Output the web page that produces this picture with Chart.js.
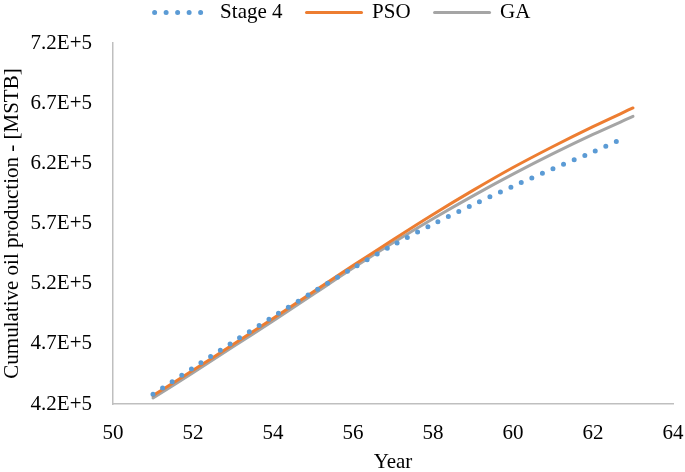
<!DOCTYPE html>
<html>
<head>
<meta charset="utf-8">
<script src="https://cdn.jsdelivr.net/npm/chart.js@4"></script>
<style>
  html, body { margin: 0; padding: 0; background: #fff; }
  #wrap { width: 685px; height: 472px; }
</style>
</head>
<body>
<div id="wrap"><canvas id="graph" width="685" height="472"></canvas></div>
<script>
// values
const years = [51, 52, 53, 54, 55, 56, 57, 58, 59, 60, 61, 62, 63];
const stage4Years = [51, 52, 53, 54, 55, 56, 57, 58, 59, 60, 61, 62, 62.8];
const stage4 = [428000, 450000, 471500, 492500, 513000, 533000, 552000, 569500, 585500, 601000, 615500, 629500, 641500];
const pso = [427000, 448000, 469500, 491000, 513000, 535000, 556500, 577500, 597500, 616500, 634000, 650500, 666000];
const ga = [425000, 446000, 467500, 489000, 511000, 533000, 554000, 574000, 593000, 611000, 628000, 644000, 659000];
const xTicks = [50, 52, 54, 56, 58, 60, 62, 64];
const yTicks = [420000, 470000, 520000, 570000, 620000, 670000, 720000];

const serif = '"Liberation Serif", "Times New Roman", serif';

function points(xs, ys) {
    return xs.map((x, i) => ({ x: x, y: ys[i] }));
}

// legend needs its own room above the plot, text near the top edge
const legendShift = {
    id: 'legendShift',
    beforeInit(chart) {
        const fit = chart.legend.fit;
        chart.legend.fit = function () {
            fit.call(this);
            this.height = 43;
        };
    },
    afterLayout(chart) {
        chart.legend.top -= 22;
    }
};

const lineGraph = {
    type: 'line',
    data: {
        datasets: [
            {
                label: 'Stage 4',
                data: points(stage4Years, stage4),
                borderColor: '#5B9BD5',
                backgroundColor: '#5B9BD5',
                borderWidth: 5,
                borderDash: [0, 11.5],
                borderCapStyle: 'round',
                pointRadius: 0,
                tension: 0.3
            },
            {
                label: 'PSO',
                data: points(years, pso),
                borderColor: '#ED7D31',
                backgroundColor: '#ED7D31',
                borderWidth: 3,
                borderCapStyle: 'round',
                pointRadius: 0,
                tension: 0.3
            },
            {
                label: 'GA',
                data: points(years, ga),
                borderColor: '#A5A5A5',
                backgroundColor: '#A5A5A5',
                borderWidth: 3,
                borderCapStyle: 'round',
                pointRadius: 0,
                tension: 0.3
            }
        ]
    },
    options: {
        responsive: false,
        animation: false,
        layout: { padding: { left: 0, right: 0, top: 0, bottom: 0 } },
        plugins: {
            tooltip: { enabled: false },
            legend: {
                position: 'top',
                labels: {
                    usePointStyle: true,
                    pointStyleWidth: 55,
                    padding: 24,
                    color: '#000',
                    font: { family: serif, size: 21 },
                    // the default labels take point styles, we want the line styles
                    generateLabels: (chart) => chart.data.datasets.map((ds, i) => ({
                        text: ds.label,
                        fillStyle: ds.borderColor,
                        strokeStyle: ds.borderColor,
                        fontColor: '#000',
                        lineWidth: ds.borderWidth,
                        lineDash: ds.borderDash || [],
                        lineCap: ds.borderCapStyle,
                        pointStyle: 'line',
                        datasetIndex: i
                    }))
                }
            }
        },
        scales: {
            x: {
                type: 'linear',
                min: 50,
                max: 64,
                afterBuildTicks: (scale) => { scale.ticks = xTicks.map(v => ({ value: v })); },
                afterFit: (scale) => {
                    scale.height = 68;
                    scale.paddingRight = 12;
                },
                grid: { display: false, drawTicks: false },
                border: { display: true, color: '#bfbfbf', width: 1.5 },
                ticks: { color: '#000', padding: 17, font: { family: serif, size: 21 } },
                title: {
                    display: true,
                    text: 'Year',
                    color: '#000',
                    padding: { top: 0, bottom: -3 },
                    font: { family: serif, size: 21 }
                }
            },
            y: {
                min: 420000,
                max: 720000,
                afterBuildTicks: (scale) => { scale.ticks = yTicks.map(v => ({ value: v })); },
                afterFit: (scale) => { scale.width = 113; },
                grid: { display: false, drawTicks: false },
                border: { display: true, color: '#bfbfbf', width: 1.5 },
                ticks: {
                    color: '#000',
                    padding: 21,
                    font: { family: serif, size: 21 },
                    callback: (v) => (v / 100000).toFixed(1) + 'E+5'
                },
                title: {
                    display: true,
                    text: 'Cumulative oil production - [MSTB]',
                    color: '#000',
                    padding: { top: 0, bottom: 0 },
                    font: { family: serif, size: 21 }
                }
            }
        }
    },
    plugins: [legendShift]
};

let graph = document.getElementById('graph').getContext('2d');
let displayedGraph = new Chart(graph, lineGraph);
</script>
</body>
</html>
